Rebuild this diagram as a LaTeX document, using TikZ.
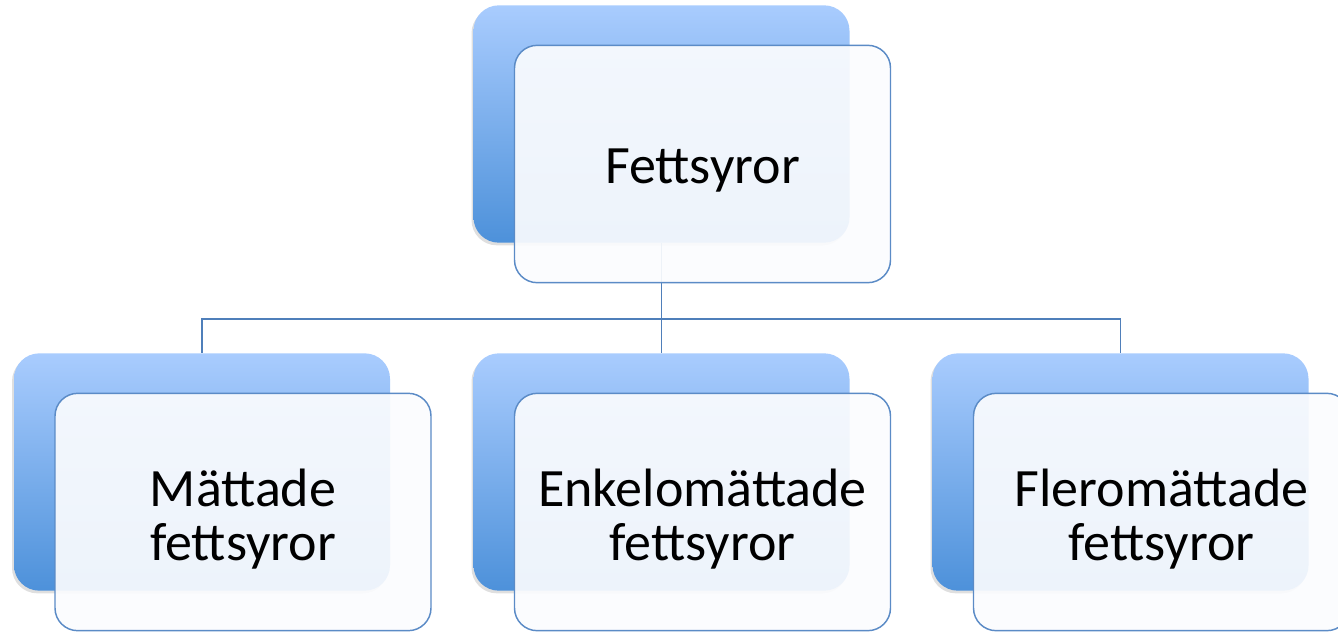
\documentclass[tikz,border=0pt]{standalone}
\usepackage{fontspec}
\setmainfont{Carlito}
\usetikzlibrary{calc, shadows}
\definecolor{backTop}{HTML}{A9CCFE}
\definecolor{backBottom}{HTML}{4D91DA}
\definecolor{frontLine}{HTML}{5B8BC6}
\definecolor{frontFill}{HTML}{FBFCFE}
\definecolor{connLine}{HTML}{4F7FBA}

\begin{document}
\begin{tikzpicture}[x=0.75pt, y=-0.75pt,
    backbox/.style={rounded corners=19pt, minimum width=282pt, minimum height=178pt,
        inner sep=0pt, top color=backTop, bottom color=backBottom,
        drop shadow={shadow xshift=-1.5pt, shadow yshift=-2pt, opacity=0.25}},
    frontbox/.style={rounded corners=17pt, minimum width=282pt, minimum height=178pt,
        inner sep=0pt, draw=frontLine, line width=1.1pt, fill=frontFill, fill opacity=0.92},
    boxtext/.style={font=\fontsize{40.5}{41}\selectfont, align=center, inner sep=0pt},
    conn/.style={draw=connLine, line width=1.1pt}]
    \useasboundingbox (0,0) rectangle (1338,632);
    % back boxes
    \node[backbox] (fettBack) at (661.5,124) {};
    \node[backbox] (mattBack) at (202,472) {};
    \node[backbox] (enkBack) at (661.5,472) {};
    \node[backbox] (flerBack) at (1120.5,472) {};
    % connectors
    \coordinate (split) at ($(fettBack.south)+(0,76)$);
    \draw[conn] (fettBack.south) -- (split) -| (mattBack.north);
    \draw[conn] (split) -| (flerBack.north);
    \draw[conn] (split) -- (enkBack.north);
    % front boxes
    \node[frontbox] (fett) at ($(fettBack)+(41,40)$) {};
    \node[frontbox] (matt) at ($(mattBack)+(41,40)$) {};
    \node[frontbox] (enk) at ($(enkBack)+(41,40)$) {};
    \node[frontbox] (fler) at ($(flerBack)+(41,40)$) {};
    % texts
    \node[boxtext] (fettText) at ($(fett)+(0,7)$) {Fettsyror};
    \node[boxtext] (mattText) at ($(matt)+(0,7)$) {Mättade\\fettsyror};
    \node[boxtext] (enkText) at ($(enk)+(0,7)$) {Enkelomättade\\fettsyror};
    \node[boxtext] (flerText) at ($(fler)+(0,7)$) {Fleromättade\\fettsyror};
\end{tikzpicture}
\end{document}
